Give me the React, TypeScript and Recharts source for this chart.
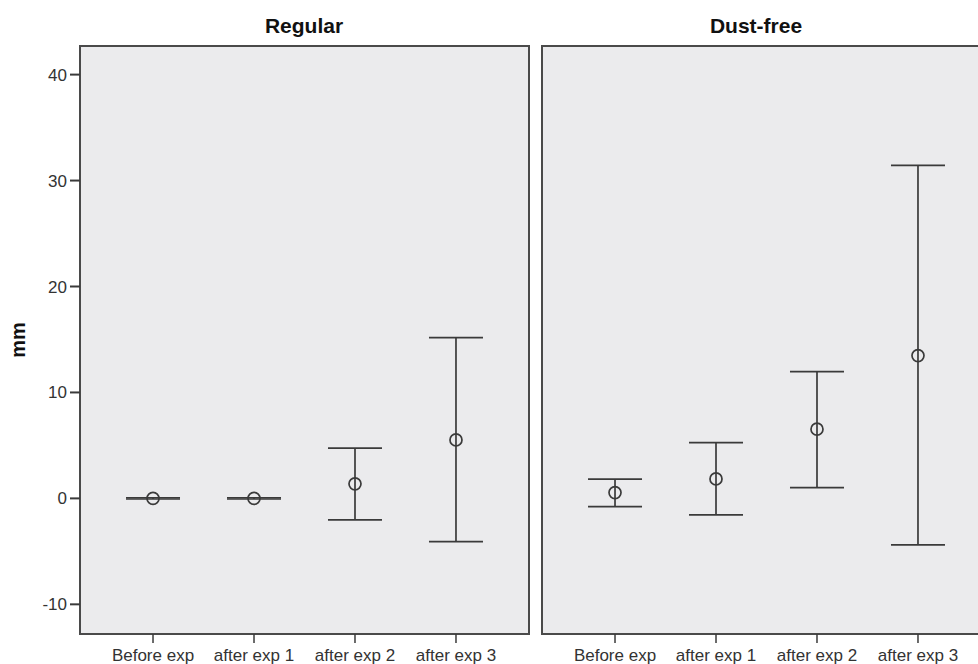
import React from 'react';
import {
  ComposedChart,
  Scatter,
  ErrorBar,
  XAxis,
  YAxis,
  ReferenceArea,
} from 'recharts';

// ─── Data ───────────────────────────────────────────────────────────────────

const categories = ['Before exp', 'after exp 1', 'after exp 2', 'after exp 3'];

const regularMean = [0, 0, 1.37, 5.52];
const regularLow = [-0.06, -0.06, -2.03, -4.08];
const regularHigh = [0.06, 0.06, 4.74, 15.18];

const dustFreeMean = [0.55, 1.84, 6.53, 13.48];
const dustFreeLow = [-0.77, -1.56, 1.02, -4.39];
const dustFreeHigh = [1.81, 5.27, 11.97, 31.43];

const yTicks = [-10, 0, 10, 20, 30, 40];

// ─── Layout constants ───────────────────────────────────────────────────────

const Y_DOMAIN: [number, number] = [-12.8, 42.7];
const X_PAD = 0.723;
const X_DOMAIN: [number, number] = [-X_PAD, categories.length - 1 + X_PAD];
const FONT = '"Liberation Sans", Arial, sans-serif';
const INK = '#3a3a3a';
const PANEL_BG = '#EBEBED';

function buildRows(mean: number[], low: number[], high: number[]) {
  return categories.map((c, i) => ({
    x: i,
    name: c,
    y: mean[i],
    err: [mean[i] - low[i], high[i] - mean[i]],
  }));
}

const regularRows = buildRows(regularMean, regularLow, regularHigh);
const dustFreeRows = buildRows(dustFreeMean, dustFreeLow, dustFreeHigh);

// ─── Pieces ─────────────────────────────────────────────────────────────────

function OpenCircle(props: any) {
  const { cx, cy } = props;
  if (cx == null || cy == null) return null;
  return <circle cx={cx} cy={cy} r={6} fill="none" stroke={INK} strokeWidth={1.7} />;
}

function MmLabel({ viewBox }: any) {
  if (!viewBox) return null;
  const x = 18;
  const y = viewBox.y + viewBox.height / 2;
  return (
    <text
      x={x}
      y={y}
      transform={`rotate(-90, ${x}, ${y})`}
      textAnchor="middle"
      dominantBaseline="central"
      fontFamily={FONT}
      fontWeight="bold"
      fontSize={20}
      fill="#111"
    >
      mm
    </text>
  );
}

function Panel({
  rows,
  width,
  left,
  showY,
}: {
  rows: ReturnType<typeof buildRows>;
  width: number;
  left: number;
  showY: boolean;
}) {
  return (
    <ComposedChart
      width={width}
      height={664}
      data={rows}
      margin={{ top: 46, right: 6, bottom: 0, left: showY ? 0 : left }}
    >
      <XAxis
        dataKey="x"
        type="number"
        domain={X_DOMAIN}
        allowDataOverflow
        ticks={[0, 1, 2, 3]}
        interval={0}
        tickFormatter={(v: number) => categories[v] ?? ''}
        tick={{ fill: '#333', fontSize: 17, fontFamily: FONT }}
        tickLine={{ stroke: INK, strokeWidth: 1.5 }}
        tickSize={9}
        tickMargin={6}
        axisLine={false}
        height={30}
      />
      <YAxis
        type="number"
        domain={Y_DOMAIN}
        allowDataOverflow
        ticks={yTicks}
        interval={0}
        hide={!showY}
        width={showY ? 80 : 0}
        tick={{ fill: '#333', fontSize: 17, fontFamily: FONT }}
        tickLine={{ stroke: INK, strokeWidth: 2 }}
        tickSize={10}
        tickMargin={3}
        axisLine={false}
        label={showY ? <MmLabel /> : undefined}
      />
      <ReferenceArea
        x1={X_DOMAIN[0]}
        x2={X_DOMAIN[1]}
        y1={Y_DOMAIN[0]}
        y2={Y_DOMAIN[1]}
        fill={PANEL_BG}
        fillOpacity={1}
        stroke="#4a4a4a"
        strokeWidth={2}
        ifOverflow="visible"
      />
      <Scatter dataKey="y" shape={<OpenCircle />} isAnimationActive={false}>
        <ErrorBar
          dataKey="err"
          direction="y"
          width={27}
          stroke={INK}
          strokeWidth={1.7}
          isAnimationActive={false}
        />
      </Scatter>
    </ComposedChart>
  );
}

// ─── Main ───────────────────────────────────────────────────────────────────

export default function App() {
  const titleStyle: React.CSSProperties = {
    position: 'absolute',
    top: 14,
    width: 200,
    textAlign: 'center',
    fontFamily: FONT,
    fontWeight: 'bold',
    fontSize: 21,
    color: '#111',
    lineHeight: '24px',
  };
  return (
    <div
      style={{
        position: 'fixed',
        left: 0,
        top: 0,
        width: 978,
        height: 664,
        overflow: 'hidden',
        background: '#fff',
      }}
    >
      <div style={{ position: 'absolute', left: 0, top: 0 }}>
        <Panel rows={regularRows} width={535} left={0} showY />
      </div>
      <div style={{ position: 'absolute', left: 0, top: 0 }}>
        <Panel rows={dustFreeRows} width={997} left={542} showY={false} />
      </div>
      <div style={{ ...titleStyle, left: 304 - 100 }}>Regular</div>
      <div style={{ ...titleStyle, left: 756 - 100 }}>Dust-free</div>
    </div>
  );
}
